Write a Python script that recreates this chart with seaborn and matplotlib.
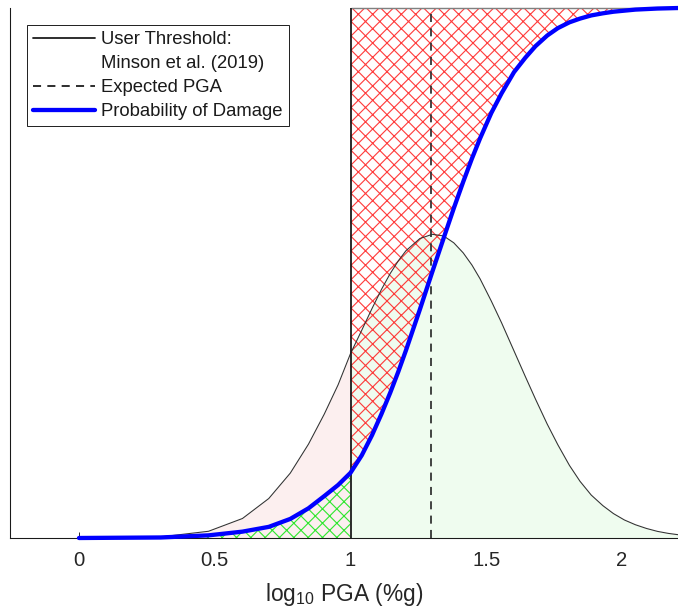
import numpy as np
import matplotlib
matplotlib.use("Agg")
import matplotlib.pyplot as plt
from matplotlib.lines import Line2D
import seaborn as sns

# PGA sample points (%g), plotted on a log10 axis
pga_pct = [1, 2, 3, 4, 5, 6, 7, 8, 9, 10, 11, 12, 13, 14, 15, 16, 18, 20,
           22, 24, 26, 28, 30, 33, 36, 40, 44, 48, 53, 58, 64, 70, 77, 85,
           93, 102, 112, 123, 135, 148, 162]

# ground motion distribution (scaled for display)
pga_density = [0.0000, 0.0021, 0.0127, 0.0368, 0.0745, 0.1224, 0.1770,
               0.2335, 0.2890, 0.3480, 0.3920, 0.4330, 0.4690, 0.4990,
               0.5230, 0.5420, 0.5650, 0.5730, 0.5700, 0.5570, 0.5380,
               0.5150, 0.4890, 0.4470, 0.4060, 0.3530, 0.3050, 0.2620,
               0.2150, 0.1760, 0.1370, 0.1070, 0.0810, 0.0610, 0.0460,
               0.0340, 0.0250, 0.0180, 0.0125, 0.0087, 0.0060]

# probability of damage curve
p_damage = [0.000, 0.001, 0.005, 0.012, 0.021, 0.036, 0.056, 0.079, 0.100,
            0.123, 0.156, 0.194, 0.234, 0.274, 0.314, 0.354, 0.431, 0.502,
            0.565, 0.622, 0.672, 0.716, 0.754, 0.802, 0.839, 0.879, 0.906,
            0.928, 0.948, 0.962, 0.973, 0.980, 0.986, 0.990, 0.993, 0.995,
            0.997, 0.998, 0.999, 0.9995, 1.000]

threshold = 1.0       # user threshold, log10 PGA
expected_pga = 1.295  # expected log10 PGA

legend_labels = ["User Threshold:", "Minson et al. (2019)",
                 "Expected PGA", "Probability of Damage"]

DPI = 86
W, H = 678, 611

sns.set_theme(style="ticks")
plt.rcParams["font.family"] = ["Liberation Sans", "DejaVu Sans"]
plt.rcParams["mathtext.fontset"] = "custom"
plt.rcParams["mathtext.rm"] = "Liberation Sans"
plt.rcParams["hatch.linewidth"] = 0.95

x = np.log10(pga_pct)
dens = np.array(pga_density)
prob = np.array(p_damage)
left = x <= threshold
right = x >= threshold

fig = plt.figure(figsize=(W / DPI, H / DPI), dpi=DPI)
ax = fig.add_axes([10 / W, 73 / H, 668 / W, 530 / H])

# shaded distribution, split at threshold
ax.fill_between(x[left], 0, dens[left], color="#fcefef", lw=0)
ax.fill_between(x[right], 0, dens[right], color="#effcef", lw=0)

# hatched regions
ax.fill_between(x[left], 0, prob[left], facecolor="none",
                edgecolor=(0.1, 0.9, 0.1, 0.9), hatch="xx", lw=0)
ax.fill_between(x[right], prob[right], 1, facecolor="none",
                edgecolor=(1.0, 0.1, 0.1, 0.85), hatch="xx", lw=0)
ax.hlines(1.0, threshold, x[-1], color="0.5", lw=1.2, clip_on=False)

sns.lineplot(x=x, y=dens, ax=ax, color="0.2", lw=0.9)

ax.axvline(threshold, color="k", lw=1.5)
ax.axvline(expected_pga, color="0.2", lw=1.5, ls=(0, (4.5, 3.5)))

sns.lineplot(x=x, y=prob, ax=ax, color="#0000ff", lw=3.6, clip_on=False,
             zorder=5)

ax.set_xlim(-0.254, 2.206)
ax.set_ylim(0, 1)
ax.set_xticks([0, 0.5, 1, 1.5, 2])
ax.set_xticklabels(["0", "0.5", "1", "1.5", "2"])
ax.set_yticks([])
ax.tick_params(axis="x", direction="in", length=5, width=0.8, pad=11,
               labelsize=17, labelcolor="0.15", color="0.15")
ax.set_xlabel(r"log$_{\mathregular{10}}$ PGA (%g)", fontsize=19,
              color="0.15", labelpad=9)
sns.despine(ax=ax)
for side in ["left", "bottom"]:
    ax.spines[side].set_color("0.1")
    ax.spines[side].set_linewidth(0.9)

handles = [
    Line2D([], [], color="k", lw=1.5),
    Line2D([], [], color="none"),
    Line2D([], [], color="0.1", lw=1.5, ls=(0, (4.5, 3.5))),
    Line2D([], [], color="#0000ff", lw=3.6),
]
leg = ax.legend(handles, legend_labels, loc="upper left",
                bbox_to_anchor=(0.0254, 0.968), borderaxespad=0,
                fontsize=15.5, frameon=True, fancybox=False, edgecolor="k",
                framealpha=1, handlelength=3.35, handletextpad=0.33,
                borderpad=0.33, labelspacing=0.38)
leg.get_frame().set_linewidth(0.8)
for t in leg.get_texts():
    t.set_color("0.1")

fig.savefig("out.png", dpi=DPI)
